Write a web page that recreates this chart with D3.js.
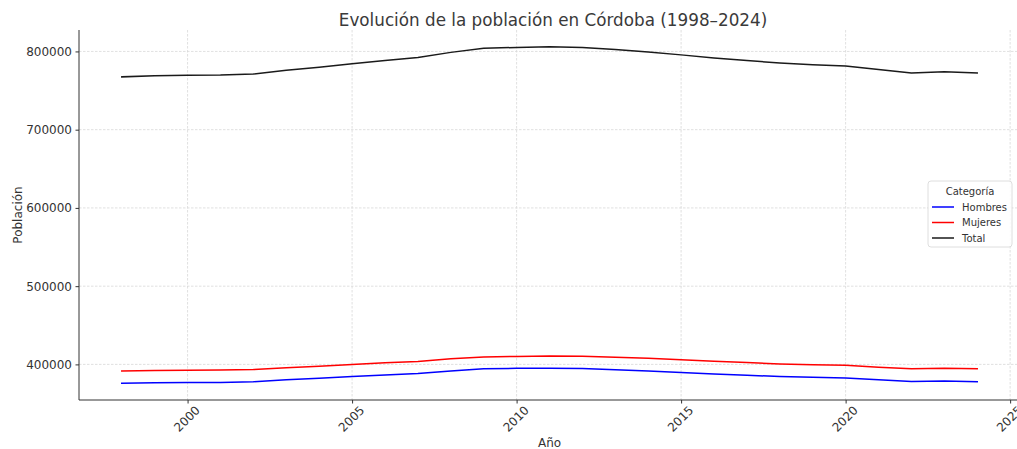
<!DOCTYPE html>
<html>
<head>
<meta charset="utf-8">
<script src="https://cdn.jsdelivr.net/npm/d3@7"></script>
<style>
  html, body { margin: 0; padding: 0; background: #fff; }
  svg { display: block; font-family: "DejaVu Sans", sans-serif; }
</style>
</head>
<body>
<svg id="chart" width="1017" height="449"></svg>
<script>
const years = [1998,1999,2000,2001,2002,2003,2004,2005,2006,2007,2008,2009,2010,2011,2012,2013,2014,2015,2016,2017,2018,2019,2020,2021,2022,2023,2024];
const hombres = [376000,376700,376900,377000,377800,380400,382300,384400,386300,388400,391700,394500,395000,395200,394800,393300,391600,389700,387700,386000,384600,383500,382700,380300,378200,378900,378000];
const mujeres = [391500,392300,392600,392800,393400,395600,397600,400000,402000,403800,407100,409500,410100,410700,410300,409100,407800,405900,403900,402300,400600,399500,398800,396500,394300,395100,394500];
const total = [767500,769000,769500,769800,771200,776000,779900,784400,788300,792200,798800,804000,805100,805900,805100,802400,799400,795600,791600,788300,785200,783000,781500,776800,772500,774000,772500];
const seriesNames = ["Hombres","Mujeres","Total"];
const seriesColors = ["#0000ff","#ff0000","#1a1a1a"];
const xTicks = [2000,2005,2010,2015,2020,2025];
const yTicks = [400000,500000,600000,700000,800000];

(function () {
const svg = d3.select("#chart");
const mLeft = 79, mRight = 1020, mTop = 30, mBottom = 400;

const xPad = (d3.max(years) - d3.min(years)) * 0.05;
const x = d3.scaleLinear().domain([d3.min(years) - xPad, d3.max(years) + xPad]).range([mLeft, mRight]);
const allVals = hombres.concat(mujeres, total);
const yMin = d3.min(allVals), yMax = d3.max(allVals);
const yPad = (yMax - yMin) * 0.05;
const y = d3.scaleLinear().domain([yMin - yPad, yMax + yPad]).range([mBottom, mTop]);

// grid
const grid = svg.append("g");
grid.selectAll(".gx").data(xTicks).enter().append("line")
  .attr("x1", d => x(d)).attr("x2", d => x(d)).attr("y1", mTop).attr("y2", mBottom)
  .attr("stroke", "#d8d8d8").attr("stroke-width", 0.8).attr("stroke-dasharray", "2.5,1.5");
grid.selectAll(".gy").data(yTicks).enter().append("line")
  .attr("x1", mLeft).attr("x2", mRight).attr("y1", d => y(d)).attr("y2", d => y(d))
  .attr("stroke", "#d8d8d8").attr("stroke-width", 0.8).attr("stroke-dasharray", "2.5,1.5");

// lines
const seriesData = [hombres, mujeres, total];
const line = d3.line().x((d, i) => x(years[i])).y(d => y(d));
seriesData.forEach((s, k) => {
  svg.append("path").datum(s).attr("d", line)
    .attr("fill", "none").attr("stroke", seriesColors[k]).attr("stroke-width", 1.5)
    .attr("stroke-linejoin", "round").attr("stroke-linecap", "square");
});

// axes
const yAxis = d3.axisLeft(y).tickValues(yTicks).tickFormat(d3.format("d")).tickSize(3.5).tickPadding(3.5);
const gy = svg.append("g").attr("transform", `translate(${mLeft},0)`).call(yAxis);
gy.select(".domain").remove();
gy.selectAll("line").attr("stroke", "#333");
gy.selectAll("text").attr("fill", "#333").style("font-size", "12px").style("font-family", "DejaVu Sans");

const xAxis = d3.axisBottom(x).tickValues(xTicks).tickFormat(d3.format("d")).tickSize(3.5);
const gx = svg.append("g").attr("transform", `translate(0,${mBottom})`).call(xAxis);
gx.select(".domain").remove();
gx.selectAll("line").attr("stroke", "#333");
gx.selectAll("text")
  .attr("fill", "#333").style("font-size", "12px").style("font-family", "DejaVu Sans")
  .attr("y", 0).attr("dy", null)
  .attr("text-anchor", "middle").attr("dominant-baseline", "central")
  .attr("transform", "translate(-1,19) rotate(-45)");

// spines
svg.append("line").attr("x1", mLeft).attr("x2", mLeft).attr("y1", mTop).attr("y2", mBottom)
  .attr("stroke", "#333").attr("stroke-width", 1);
svg.append("line").attr("x1", mLeft).attr("x2", mRight).attr("y1", mBottom).attr("y2", mBottom)
  .attr("stroke", "#333").attr("stroke-width", 1);

// title & labels
svg.append("text").attr("x", 553).attr("y", 25.5).attr("text-anchor", "middle")
  .attr("fill", "#3a3a3a").style("font-size", "16.8px").text("Evolución de la población en Córdoba (1998–2024)");
svg.append("text").attr("x", (mLeft + mRight) / 2).attr("y", 447).attr("text-anchor", "middle")
  .attr("fill", "#333").style("font-size", "12px").text("Año");
svg.append("text").attr("transform", `translate(22,${(mTop + mBottom) / 2}) rotate(-90)`)
  .attr("text-anchor", "middle").attr("fill", "#333").style("font-size", "12px").text("Población");

// legend
const lg = svg.append("g").attr("transform", "translate(928,181)");
lg.append("rect").attr("x", 0).attr("y", 0).attr("width", 84).attr("height", 66).attr("rx", 3)
  .attr("fill", "#fff").attr("fill-opacity", 0.85).attr("stroke", "#d5d5d5").attr("stroke-width", 0.8);
lg.append("text").attr("x", 42).attr("y", 14).attr("text-anchor", "middle").attr("fill", "#333")
  .style("font-size", "10px").text("Categoría");
seriesNames.forEach((n, i) => {
  const yy = 26 + i * 15.5;
  lg.append("line").attr("x1", 4).attr("x2", 26).attr("y1", yy).attr("y2", yy)
    .attr("stroke", seriesColors[i]).attr("stroke-width", 1.5);
  lg.append("text").attr("x", 34).attr("y", yy).attr("dy", "0.35em").attr("fill", "#333")
    .style("font-size", "10px").text(n);
});
})();
</script>
</body>
</html>
